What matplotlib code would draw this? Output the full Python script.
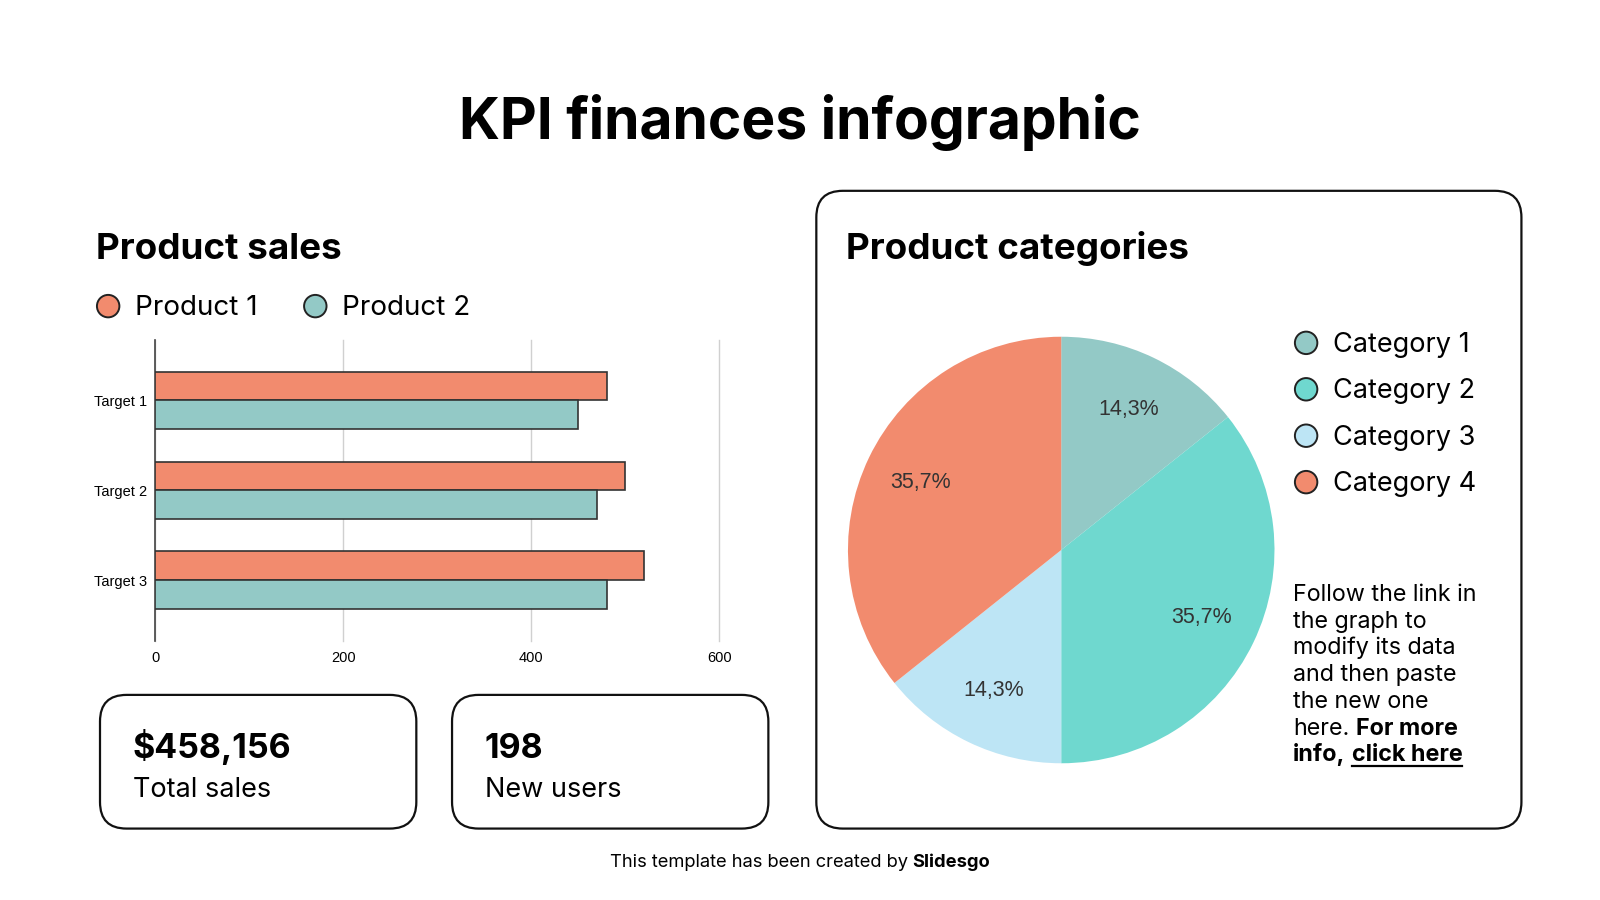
import matplotlib
matplotlib.use("Agg")
import matplotlib.pyplot as plt
from matplotlib.patches import FancyBboxPatch, Circle

# data
targets = ["Target 1", "Target 2", "Target 3"]
product1 = [480, 500, 520]
product2 = [450, 470, 480]
x_ticks = [0, 200, 400, 600]

categories = ["Category 1", "Category 2", "Category 3", "Category 4"]
cat_values = [2, 5, 2, 5]

kpi_values = ["$458,156", "198"]
kpi_labels = ["Total sales", "New users"]

orange = "#F28B6E"
teal = "#93C9C6"
turq = "#6FD8CF"
light = "#BDE5F5"
cat_colors = [teal, turq, light, orange]

FONT = ["Inter", "DejaVu Sans"]
ARIAL = ["Liberation Sans", "DejaVu Sans"]
W, H = 1568, 882  # reference pixel grid

fig = plt.figure(figsize=(16, 9), dpi=100)
bg = fig.add_axes([0, 0, 1, 1])
bg.set_xlim(0, W)
bg.set_ylim(H, 0)
bg.axis("off")


def box(x0, y0, x1, y1, r=26):
    p = FancyBboxPatch((x0 + r, y0 + r), x1 - x0 - 2 * r, y1 - y0 - 2 * r,
                       boxstyle="round,pad=%d" % r, fc="white", ec="#111111", lw=1.6)
    bg.add_patch(p)


# title
bg.text(784, 136, "KPI finances infographic", ha="center", va="baseline",
        fontsize=41, fontweight="bold", family=FONT)

# left panel
bg.text(94, 254, "Product sales", va="baseline", fontsize=26.5, fontweight="bold", family=FONT)
for cx, lab, col in [(106, "Product 1", orange), (309, "Product 2", teal)]:
    bg.add_patch(Circle((cx, 300), 11, fc=col, ec="#222222", lw=1.4))
    bg.text(cx + 26, 309, lab, va="baseline", fontsize=20, family=FONT)

ax = fig.add_axes([152 / W, 1 - 628 / H, (705 - 152) / W, (628 - 333) / H])
ypos = list(range(len(targets)))
bh = 0.32
ax.barh([y - bh / 2 for y in ypos], product1, height=bh, color=orange,
        edgecolor="#333333", linewidth=1.2, zorder=3)
ax.barh([y + bh / 2 for y in ypos], product2, height=bh, color=teal,
        edgecolor="#333333", linewidth=1.2, zorder=3)
ax.set_xlim(0, 600)
ax.set_ylim(2.675, -0.675)
ax.set_yticks(ypos)
ax.set_yticklabels(targets, family=ARIAL, fontsize=10.5)
ax.set_xticks(x_ticks)
ax.set_xticklabels([str(t) for t in x_ticks], family=ARIAL, fontsize=10.5)
ax.tick_params(length=0, pad=7)
ax.tick_params(axis="y", pad=6)
ax.grid(axis="x", color="#d0d0d0", lw=1, zorder=0)
for g in ax.xaxis.get_gridlines():
    g.set_clip_on(False)
for s in ["top", "right", "bottom"]:
    ax.spines[s].set_visible(False)
ax.spines["left"].set_color("#444444")
ax.spines["left"].set_linewidth(1.2)
ax.set_facecolor("none")

# KPI boxes
for i, (v, lab) in enumerate(zip(kpi_values, kpi_labels)):
    x0 = 98 + i * 345
    box(x0, 681, x0 + 310, 812)
    bg.text(x0 + 32, 743, v, va="baseline", fontsize=24.5, fontweight="bold", family=FONT)
    bg.text(x0 + 32, 781, lab, va="baseline", fontsize=19.5, family=FONT)

# right panel
box(800, 187, 1491, 812)
bg.text(829, 254, "Product categories", va="baseline", fontsize=26.5, fontweight="bold", family=FONT)

pax = fig.add_axes([(1040 - 209) / W, 1 - (539 + 209) / H, 418 / W, 418 / H])
wedges, texts, autotexts = pax.pie(
    cat_values, colors=cat_colors, startangle=90, counterclock=False,
    autopct=lambda p: ("%.1f%%" % p).replace(".", ","), pctdistance=0.73,
    wedgeprops=dict(linewidth=0), textprops=dict(family=ARIAL, fontsize=15.5, color="#333333"))
pax.set_xlim(-1, 1)
pax.set_ylim(-1, 1)
pax.set_aspect("equal")

for i, (cat, col) in enumerate(zip(categories, cat_colors)):
    cy = 336 + i * 45.5
    bg.add_patch(Circle((1280, cy), 11, fc=col, ec="#222222", lw=1.4))
    bg.text(1306, cy + 9, cat, va="baseline", fontsize=19.5, family=FONT)

fig.canvas.draw()
renderer = fig.canvas.get_renderer()


def pieces(x, y, parts, size, gap=0.28):
    # parts: list of (text, bold, underline); gap is a word space in em
    sp = gap * size / 72 * 100 * W / 1600
    for k, (txt, bold, under) in enumerate(parts):
        t = bg.text(x, y, txt, va="baseline", fontsize=size,
                    fontweight="bold" if bold else "normal", family=FONT)
        bb = t.get_window_extent(renderer).transformed(bg.transData.inverted())
        x1 = bb.x1
        if under:
            bg.plot([x, x1], [y + 4, y + 4], color="black", lw=1.6)
        x = x1 + sp
    return x


psize = 16.8
para = ["Follow the link in", "the graph to", "modify its data",
        "and then paste", "the new one"]
for i, line in enumerate(para):
    bg.text(1267, 589 + i * 26.2, line, va="baseline", fontsize=psize, family=FONT)
pieces(1267, 589 + 5 * 26.2, [("here.", False, False), ("For more", True, False)], psize)
pieces(1267, 589 + 6 * 26.2, [("info,", True, False), ("click here", True, True)], psize)

# footer
fsize = 13.2
foot = [("This template has been created by", False, False), ("Slidesgo", True, False)]
tmp = [bg.text(0, 0, t, fontsize=fsize, fontweight="bold" if b else "normal", family=FONT)
       for t, b, _ in foot]
tw = sum(t.get_window_extent(renderer).width for t in tmp) * W / 1600
tw += 0.28 * fsize / 72 * 100 * W / 1600
for t in tmp:
    t.remove()
pieces(784 - tw / 2, 850, foot, fsize)

fig.savefig("out.png", dpi=100, facecolor="white")
